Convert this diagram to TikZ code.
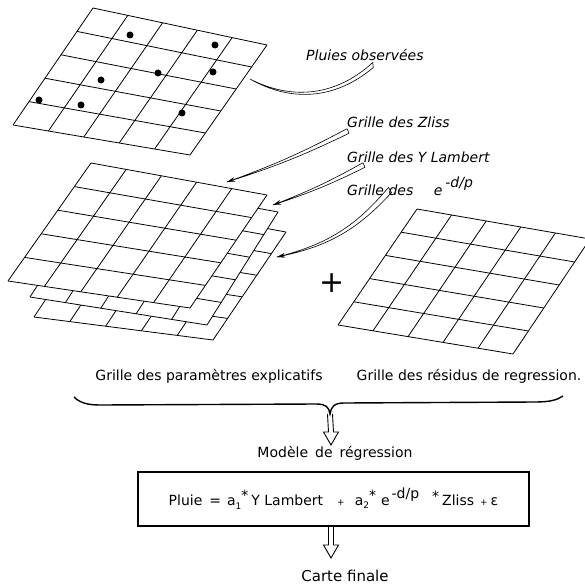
\documentclass[tikz,border=0pt]{standalone}
\usepackage{fontspec}
\setmainfont{DejaVu Sans}
\usetikzlibrary{calc,arrows.meta}

\tikzset{
  grid line/.style={line width=0.8pt, line join=round},
  wedge/.style={line width=0.6pt, line join=round},
  brace line/.style={line width=1.4pt},
  top label/.style={font=\fontsize{14}{16}\selectfont\itshape, anchor=base west, inner sep=0pt},
  low label/.style={font=\fontsize{14}{16}\selectfont, anchor=base, inner sep=0pt},
}

% 5 x 5 grid between four corners: BL, BR, TR, TL
\newcommand{\quadgrid}[4]{%
  \fill[white] (#1) -- (#2) -- (#3) -- (#4) -- cycle;
  \foreach \k in {0,...,5}{
    \draw[grid line] ($(#1)!\k/5!(#4)$) -- ($(#2)!\k/5!(#3)$);
    \draw[grid line] ($(#1)!\k/5!(#2)$) -- ($(#4)!\k/5!(#3)$);
  }
}

% thin hollow wedge from a label to a grid
\newcommand{\wedgearrow}[4]{%
  \draw[white, line width=0.1pt, -{Stealth[black, length=8pt, width=4.5pt]}] (#1) to[bend left=#3] (#2);
  \draw[wedge] ($(#1)!#4!90:(#2)$) to[bend left=#3] (#2) to[bend right=#3] ($(#1)!#4!-90:(#2)$) -- cycle;
}

% open hollow arrow pointing down
\newcommand{\hollowdown}[2]{%
  \draw[line width=0.9pt, line join=miter] ($(#1)+(-2.5,0)$) -- ($(#2)+(-2.5,-13)$) -- ($(#2)+(-7.5,-13)$) -- (#2)
    -- ($(#2)+(7.5,-13)$) -- ($(#2)+(2.5,-13)$) -- ($(#1)+(2.5,0)$);
}

\begin{document}
\begin{tikzpicture}[x=1pt, y=-1pt]
\useasboundingbox (0,0) rectangle (584,588);

% === observed rainfall ===
\coordinate (obsBL) at (13,125);
\coordinate (obsBR) at (190,155);
\coordinate (obsTR) at (267,45);
\coordinate (obsTL) at (93,8);
\quadgrid{obsBL}{obsBR}{obsTR}{obsTL}
\foreach \px/\py in {130/35, 215/45, 158/73, 213/72, 101/80, 39/100, 81/105, 182/113}
  \fill (\px,\py) circle (3.5pt);

% === stack of explanatory grids (back to front) ===
\coordinate (thirdBL) at (34,317);
\coordinate (thirdBR) at (213,340);
\coordinate (thirdTR) at (286,232);
\coordinate (thirdTL) at (112,200);
\quadgrid{thirdBL}{thirdBR}{thirdTR}{thirdTL}

\coordinate (secondBL) at (30,297);
\coordinate (secondBR) at (207,325);
\coordinate (secondTR) at (278,212);
\coordinate (secondTL) at (106,180);
\quadgrid{secondBL}{secondBR}{secondTR}{secondTL}

\coordinate (frontBL) at (8,281);
\coordinate (frontBR) at (190,308);
\coordinate (frontTR) at (267,195);
\coordinate (frontTL) at (91,163);
\quadgrid{frontBL}{frontBR}{frontTR}{frontTL}

% === residual grid ===
\coordinate (resBL) at (338,325);
\coordinate (resBR) at (513,354);
\coordinate (resTR) at (590,239);
\coordinate (resTL) at (417,209);
\quadgrid{resBL}{resBR}{resTR}{resTL}

\node[font=\fontsize{30}{30}\selectfont] (plus) at (332,283) {+};

% === labels at the top ===
\node[top label] (obslabel) at (306,61) {Pluies observées};
\node[top label] (zlisslabel) at (347,128) {Grille des Zliss};
\node[top label] (lambertlabel) at (347,162) {Grille des Y Lambert};
\node[top label] (explabel) at (347,195) {Grille des \hspace{16pt}e\hspace{3pt}\raisebox{8pt}{-d/p}};

\coordinate (obstail) at (373,65);
\coordinate (obstip) at (250,79);
\coordinate (zlisstail) at (348,131);
\coordinate (zlisstip) at (227,182);
\coordinate (lamberttail) at (364,165);
\coordinate (lamberttip) at (273,205);
\coordinate (exptail) at (390,190);
\coordinate (exptip) at (277,257);

\draw[wedge] ($(obstail)!2.5pt!90:(obstip)$) to[bend left=35] (obstip) to[bend right=35] ($(obstail)!2.5pt!-90:(obstip)$) -- cycle;
\wedgearrow{zlisstail}{zlisstip}{4}{2.5pt}
\wedgearrow{lamberttail}{lamberttip}{4}{2.5pt}
\wedgearrow{exptail}{exptip}{18}{3pt}

% === captions and brace ===
\node[low label] (paramlabel) at (209,380) {Grille des paramètres explicatifs};
\node[low label] (residlabel) at (469,380) {Grille des résidus de regression.};

\coordinate (braceL) at (74,397);
\coordinate (braceR) at (563,396);
\coordinate (braceTip) at (330,414);
\draw[brace line] (braceL) .. controls (80,403) and (88,405) .. (100,405) -- (316,404)
  .. controls (326,404) and (329,407) .. (braceTip)
  .. controls (331,407) and (334,403) .. (344,403) -- (535,402)
  .. controls (550,402) and (557,400) .. (braceR);

\coordinate (modeltip) at (331,445);
\hollowdown{braceTip}{modeltip}

\node[low label] (modellabel) at (335,457) {Modèle\enspace de\enspace régression};

% === regression model ===
\node[draw, line width=1.2pt, minimum width=391pt, minimum height=54pt,
      font=\fontsize{14}{16}\selectfont] (formula) at (333.5,499)
  {Pluie\hspace{7pt}=\hspace{6pt}a\raisebox{-4pt}{\small 1}\raisebox{5pt}{*}\hspace{3pt}Y Lambert\hspace{14pt}{\small +}\hspace{10pt}a\raisebox{-3pt}{\small 2}\raisebox{5pt}{*}\hspace{5pt}e\hspace{2pt}\raisebox{7pt}{-d/p}\hspace{13pt}\raisebox{4pt}{*}\hspace{3pt}Zliss\hspace{6pt}{\small +}\hspace{3pt}ε};

\coordinate (finaltip) at (331,558);
\hollowdown{formula.south -| finaltip}{finaltip}

\node[low label, font=\fontsize{15}{17}\selectfont] (finallabel) at (345,581) {Carte finale};

\end{tikzpicture}
\end{document}
